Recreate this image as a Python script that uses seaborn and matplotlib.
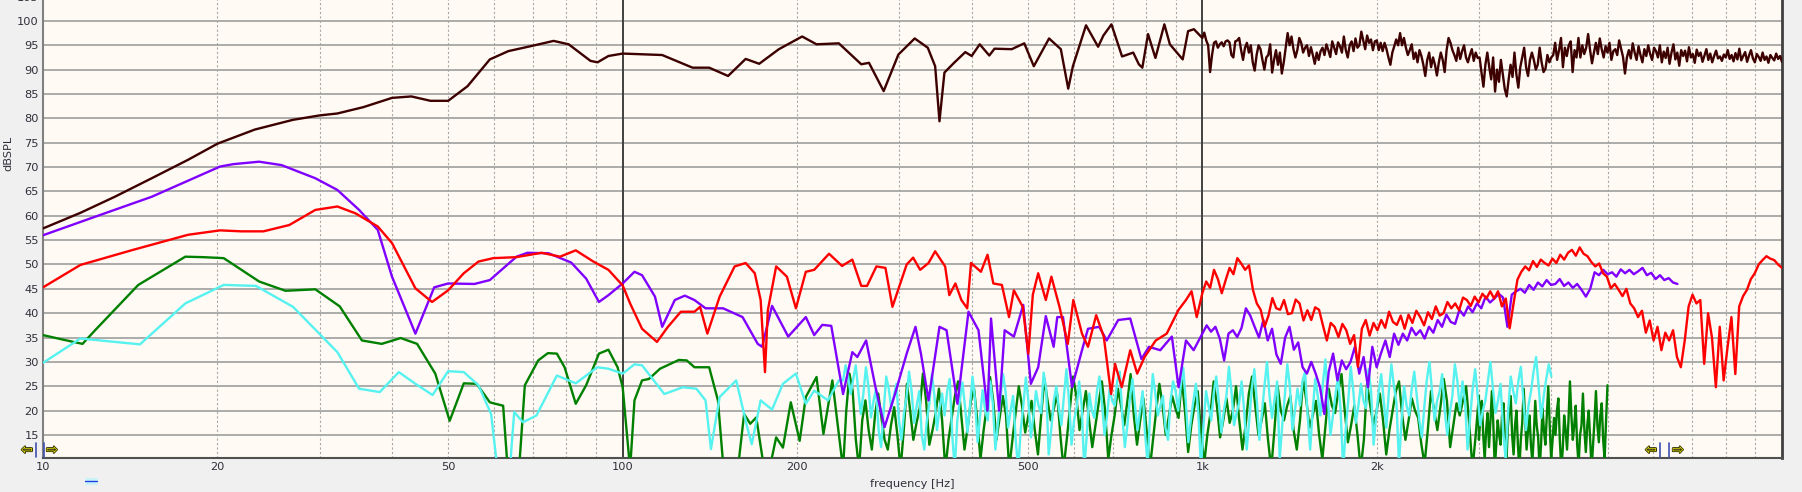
import numpy as np
import pandas as pd
import matplotlib
matplotlib.use("Agg")
import matplotlib.pyplot as plt
import matplotlib.patheffects as pe
from matplotlib.lines import Line2D
import seaborn as sns

# ---- data (frequency in Hz, level in dB SPL) ----
# brown: low band as typed points, 1k..10k as typed noisy values
brown_f = [10, 11.6, 13.3, 15.4, 17.8, 20, 23.2, 27, 30, 32.2, 35.7, 40, 43.2, 46.6, 50, 54, 59, 63.5, 70.5, 76,
           80.7, 88, 90.5, 94.5, 100, 117, 132, 141, 152, 163, 172, 186, 204, 216, 236, 258, 266, 282, 299, 319,
           336, 346, 352, 359, 373, 390, 400, 413, 429, 438, 469, 493, 512, 544, 570, 587, 598, 630, 661, 675,
           697, 727, 760, 777, 788, 806, 830, 860, 879, 925, 945, 967]
brown_db = [57.4, 60.6, 63.9, 67.7, 71.5, 74.8, 77.7, 79.7, 80.6, 81.0, 82.3, 84.2, 84.5, 83.6, 83.6, 86.6, 92.1, 93.8, 95.0, 95.9,
            95.2, 91.8, 91.5, 92.8, 93.3, 93.0, 90.4, 90.4, 88.7, 92.2, 91.2, 94.2, 96.8, 95.2, 95.4, 91.1, 91.4, 85.6, 93.1, 96.4,
            94.5, 90.7, 79.4, 89.4, 91.4, 93.6, 92.8, 95.2, 92.9, 94.3, 94.2, 95.4, 90.7, 96.4, 94.2, 86.1, 90.7, 99.1, 94.7, 97.0,
            99.3, 92.7, 93.5, 91.1, 90.4, 97.3, 92.4, 99.3, 95.2, 92.1, 97.9, 98.3]
brown_hf_range = (1000, 10000)
brown_hf_db = [
    96.5, 97.6, 96.0, 95.0, 89.5, 93.0, 95.5, 95.8, 94.5, 95.2, 95.6, 94.8, 95.8, 96.0, 95.6, 93.0, 92.5, 95.8,
    96.0, 96.5, 94.0, 92.0, 94.5, 95.5, 93.5, 95.0, 91.5, 89.8, 93.0, 95.0, 94.2, 92.0, 90.0, 92.5, 93.0, 95.2,
    89.4, 92.0, 94.0, 91.0, 93.5, 89.2, 91.5, 94.5,
    97.5, 95.0, 96.8, 94.2, 92.5, 94.0, 96.5, 95.5, 93.5, 94.5, 95.0, 92.8, 94.6, 93.0, 91.2, 93.5, 92.0,
    93.8, 94.5, 93.0, 95.2, 94.0, 92.6, 95.8, 94.5, 93.2, 95.6, 94.8, 93.5, 96.8, 94.0, 92.5, 95.0, 95.8, 93.8,
    96.4, 94.5, 95.0, 97.8, 96.0, 94.2, 97.0, 95.5, 96.2, 94.0, 95.8,
    96.0, 94.0, 95.5, 93.8, 95.5, 94.2, 92.5, 91.0, 93.5, 94.8, 96.2, 95.0, 97.5, 95.0, 96.5, 94.5, 93.0, 94.0,
    95.2, 92.2, 93.5, 91.5, 94.0, 92.8,
    91.0, 88.7, 92.0, 93.5, 90.5, 92.5, 91.0, 88.8, 91.5, 93.5, 92.0, 89.5, 94.0, 96.5, 95.5, 94.0, 93.0, 91.8,
    94.5, 92.2, 93.8, 95.0, 92.5, 91.5, 93.0, 94.2, 91.8, 93.5, 92.4,
    92.5, 89.4, 86.5, 91.0, 93.5, 90.5, 88.0, 92.5, 85.5, 90.0, 87.5, 92.0, 89.0, 86.0, 84.5, 88.0, 91.0, 88.5,
    93.5, 89.0, 86.3, 90.5, 92.5, 94.5, 90.5, 88.7, 92.0, 93.5, 92.0, 90.0, 91.0, 94.5, 91.5, 89.5, 90.2, 93.0,
    91.5, 92.5,
    93.0, 95.5, 92.0, 94.0, 96.5, 90.5, 94.5, 92.8, 95.0, 95.8, 89.5, 94.0, 92.5, 96.5, 92.5, 95.0, 93.2, 94.5,
    97.3, 94.0, 91.3, 93.5, 95.5, 93.2, 96.4, 94.2, 92.5, 94.8, 93.5, 95.5, 92.0, 93.8, 94.2, 93.0, 96.0, 94.3,
    92.6, 89.2, 92.5, 94.0, 92.3, 95.4, 93.5, 92.0, 94.8, 93.0, 91.5, 94.2, 92.8, 95.0, 93.2, 92.0, 94.5,
    93.8, 92.5, 95.0, 91.5, 93.7, 92.4, 94.5, 91.2, 93.5, 95.2, 92.1, 93.5, 90.8, 94.0, 92.8, 93.9, 91.7, 94.6,
    92.5, 93.2, 91.4, 94.1, 92.8, 93.5, 91.6, 92.9, 94.2, 92.0, 93.3, 91.5, 92.8, 93.9, 92.3, 92.7, 91.8, 93.1,
    92.5, 94.0, 92.2, 93.0, 91.7, 93.4, 92.1, 94.3, 91.9, 92.8, 93.6, 91.6, 92.9, 94.0, 92.3, 91.5, 93.2, 92.6,
    91.8, 93.5, 92.0, 92.7, 91.4, 93.0, 92.4, 91.9, 93.3, 92.2, 92.8, 91.6]

purple_f = [10, 12.3, 15.4, 20.2, 21.3, 23.6, 25.8, 29.5, 32.2, 35.1, 37.8, 40, 43.9, 47.3, 50, 55.5, 59, 65.6, 68.5, 74.5,
            81.5, 86.5, 91, 94.5, 100, 104.8, 108, 113.7, 117, 123, 128, 133, 139, 149, 161, 171, 174, 181, 193, 207,
            214, 221, 229, 240, 249, 254, 263, 273, 283, 295, 309, 320, 327, 337, 352, 362, 378, 395, 411, 426,
            432, 446, 456, 473, 491, 506, 521, 537, 554, 562, 575, 596, 620, 635, 664, 684, 716, 751, 785, 809,
            846, 886, 910, 937, 966]
purple_db = [56.0, 59.8, 63.9, 70.1, 70.6, 71.1, 70.4, 67.7, 65.3, 61.2, 57.1, 47.5, 35.8, 45.3, 46.1, 46.0, 46.8, 51.6, 52.4, 52.3,
             50.4, 47.1, 42.3, 43.7, 46.1, 48.5, 47.8, 43.4, 37.2, 42.7, 43.6, 42.7, 41.0, 41.0, 39.2, 33.7, 33.1, 41.5, 35.2, 39.2,
             35.5, 37.6, 37.4, 23.4, 32.0, 31.0, 34.4, 24.8, 16.6, 23.4, 31.7, 37.2, 31.7, 22.1, 37.2, 36.5, 21.4, 40.3, 36.5, 20.0,
             38.9, 20.0, 36.5, 35.2, 41.7, 25.5, 28.9, 39.4, 33.1, 39.2, 39.2, 24.8, 32.4, 36.8, 37.2, 34.4, 38.6, 38.9, 30.6, 33.1,
             32.4, 35.2, 24.8, 34.4, 32.4]
purple_hf_range = (1000, 6600)
purple_hf_db = [
    35.8, 37.5, 36.2, 37.2, 34.8, 30.3, 35.8, 36.5, 35.1, 37.0, 41.0,
    39.5, 37.2, 35.0, 38.6, 34.4, 36.8, 31.5, 29.6, 35.0, 37.2, 32.5, 34.0, 28.9,
    27.6, 30.0, 27.6, 24.8, 19.3, 28.0, 31.7, 26.2, 30.3, 28.5,
    30.0, 33.1, 27.6, 31.0, 24.8, 33.1, 28.9, 31.8, 34.4, 31.0, 35.8, 33.5,
    35.8, 34.4, 37.0, 35.5, 36.5, 34.8, 37.2, 36.0, 38.6, 37.2, 39.7, 38.2, 37.8, 40.7,
    39.5, 41.4, 40.2, 42.0, 41.0, 43.4, 42.2, 43.0, 44.0, 43.2, 37.2, 43.8, 44.5,
    45.0, 44.2, 45.8, 44.8, 46.3, 45.5, 46.8, 45.8, 46.0, 47.0, 45.6, 46.3, 45.2, 46.0,
    44.8, 43.4, 45.0, 48.4, 47.8, 48.9, 48.0, 48.4, 47.5, 49.0, 48.2, 48.9,
    48.0, 48.6, 49.3, 47.8, 48.3, 47.0, 47.8, 46.8, 47.2, 46.3, 46.0]

red_f = [10, 11.6, 14.3, 17.8, 20.2, 22, 24, 26.6, 29.5, 32.2, 34.6, 37.8, 40, 43.9, 46.9, 50, 53.2, 56.4, 59.8, 65.5,
         72.5, 78, 83, 89, 94.5, 100, 103, 108, 114.6, 119.7, 126, 133, 136, 140, 147, 156, 163, 169, 173, 176,
         178, 184, 192, 199, 207, 214, 227, 239, 249, 258, 264, 274, 284, 292, 309, 317, 326, 337, 346, 360,
         366, 375, 384, 393, 399, 415, 426, 436, 451, 464, 473, 490, 501, 510, 521, 537, 549, 567, 586, 599,
         620, 635, 656, 676, 696, 707, 726, 751, 772, 795, 831, 868, 910, 937, 958, 978]
red_db = [45.3, 49.9, 53.0, 56.1, 57.0, 56.8, 56.8, 58.1, 61.2, 61.9, 60.5, 57.8, 54.4, 45.1, 42.3, 44.7, 48.2, 50.6, 51.3, 51.5,
          52.4, 51.6, 52.9, 50.6, 48.9, 45.7, 42.0, 36.8, 34.1, 37.2, 40.3, 40.3, 41.3, 35.8, 43.4, 49.6, 50.3, 48.2, 42.7, 27.9,
          40.6, 49.6, 47.5, 41.0, 48.5, 48.9, 52.2, 49.7, 51.0, 45.6, 45.6, 49.6, 49.3, 41.3, 50.0, 51.4, 48.9, 50.3, 52.7, 49.6,
          43.7, 46.1, 42.7, 41.0, 50.3, 48.5, 52.0, 46.1, 45.8, 39.2, 44.7, 41.3, 31.7, 43.8, 48.2, 42.7, 47.5, 41.3, 33.7, 42.7,
          35.8, 33.1, 39.6, 35.2, 23.4, 29.6, 24.8, 32.4, 27.6, 31.0, 34.4, 35.8, 40.7, 42.7, 44.5, 39.2]
red_hf_range = (1000, 10000)
red_hf_db = [
    44.1, 46.5, 45.2, 48.9, 47.0, 44.1, 46.8, 49.3, 48.0, 51.3, 50.2, 48.9, 49.8, 44.8, 42.0,
    40.7, 37.2, 39.5, 43.1, 41.0, 40.7, 42.7, 39.8, 40.0, 42.8, 42.0, 38.5, 40.6, 38.6, 41.2,
    40.7, 37.5, 34.4, 38.0, 37.2, 35.1, 37.8, 36.5, 33.7, 35.5, 29.0, 36.8, 38.6, 35.4, 38.0,
    36.5, 38.6, 37.0, 40.3, 38.2, 37.6, 39.5, 36.8, 39.7, 38.0, 40.5, 39.2, 37.5, 40.2, 38.8,
    41.4, 39.5, 40.0, 42.3, 41.0, 42.0, 40.6, 43.2, 42.7, 41.5, 43.4, 42.2, 44.0, 43.0, 44.5,
    43.0, 44.5, 41.4, 43.0, 36.9, 42.0, 46.9, 48.5, 49.6, 48.8, 50.7, 49.5, 51.0, 50.3, 49.8,
    51.2, 50.3, 52.0, 51.0, 52.4, 53.0, 51.8, 53.5, 52.2, 51.7, 50.5, 49.6, 50.2, 48.2, 47.5,
    45.1, 46.0, 44.8, 43.5, 45.0, 42.0, 41.0, 39.2, 40.5, 36.0, 38.5, 34.4, 37.2, 32.4, 36.0,
    34.4, 36.5, 31.0, 28.9, 34.4, 41.4, 43.8, 42.0, 42.7, 29.6, 40.0, 35.0, 24.8, 37.2, 26.2,
    33.0, 39.2, 27.5, 41.4, 43.5, 44.8, 47.0, 48.2, 50.0, 50.9, 51.7, 51.2, 50.9, 50.0, 49.3]

green_f = [10, 10.8, 11.7, 12.3, 14.6, 17.6, 18.9, 20.5, 23.6, 26.2, 29.5, 32.5, 35.5, 38.4, 41.4, 44.2, 47.5, 50.3, 53.2, 56,
           59, 62.2, 63.6, 66, 67.8, 71.5, 74.3, 77, 79.4, 83, 86.5, 91, 94.5, 98, 100, 103, 104.8, 108, 111, 116,
           125, 129, 133, 141, 146, 150, 157, 162, 166, 170, 177, 184, 189, 195, 202, 207, 216, 222, 230]
green_db = [35.5, 34.6, 33.7, 36.5, 45.8, 51.6, 51.5, 51.3, 46.5, 44.6, 44.9, 41.4, 34.4, 33.7, 34.9, 33.7, 27.6, 17.9, 25.6, 25.5,
            21.7, 21.0, 5.0, 5.0, 25.2, 30.3, 31.8, 31.7, 28.9, 21.4, 25.2, 31.7, 32.5, 28.9, 24.8, 8.0, 22.1, 26.2, 26.5, 28.6,
            30.4, 30.3, 28.9, 28.9, 22.1, 5.0, 5.0, 19.3, 17.3, 18.6, 5.0, 14.5, 12.4, 21.7, 13.8, 22.8, 26.9, 15.2, 26.2]
green_mid_range = (240, 3000)
green_mid_db = [
    8.0, 20.0, 27.6, 24.1, 14.0, 8.0, 18.0, 22.1, 16.0, 12.0, 19.0, 23.5, 18.6, 14.0, 12.0, 17.0, 20.7, 15.0, 8.0, 16.0,
    25.5, 20.0, 14.0, 17.5, 20.5, 27.6, 22.0, 13.0, 16.0, 19.5, 24.5, 18.0, 8.0, 14.0, 18.5, 23.0, 26.0, 19.0, 12.0, 16.5,
    22.0, 24.5, 18.0, 10.0, 16.0, 21.0, 26.9, 22.0, 14.0, 18.5, 23.0, 19.0, 8.0, 14.0, 19.5, 25.0, 21.0, 15.5, 19.0, 22.0,
    16.0, 11.0, 19.0, 26.5, 22.0, 18.0, 20.5, 23.5, 15.0, 8.0, 14.0, 20.5, 27.0, 23.0, 16.0, 20.0, 24.0, 18.0, 12.5, 17.0,
    21.5, 26.0, 20.0, 10.0, 15.0, 19.0, 24.5, 21.0, 17.0, 22.0, 27.5, 19.0, 13.0, 18.0, 22.5, 16.0, 8.0, 14.0, 20.0, 25.5,
    21.0, 15.0, 19.0, 23.0, 20.5, 18.5, 26.5, 20.0, 11.5, 17.0, 21.0, 24.0, 16.0, 9.0, 15.0,
    19.5, 26.0, 21.0, 14.5, 18.0, 22.5, 17.5, 20.0, 25.0, 18.0, 12.0, 17.0, 23.5, 27.0, 21.0, 15.0, 18.0, 21.5, 14.0, 8.0,
    16.0, 25.0, 20.0, 18.0, 21.0, 23.0, 16.0, 12.0, 18.0, 26.5, 22.0, 16.5, 19.0, 22.0, 15.0, 10.0, 17.0, 24.5, 21.0, 19.5,
    24.0, 27.5, 20.0, 13.5, 17.0, 21.0, 15.0, 8.0, 14.0, 25.5, 21.0, 17.0, 20.0, 23.5, 18.0, 11.0, 16.0, 20.0, 24.0, 26.0,
    19.0, 14.0, 18.0, 22.5, 20.0, 18.5, 13.0, 9.0, 16.0, 24.0, 20.0, 16.0, 21.0, 26.5, 22.0, 12.5, 17.0, 21.5, 19.0, 22.0,
    25.0, 17.0, 8.0, 15.0, 23.0]
green_top_range = (3000, 5000)
green_top_db = [
    14.0, 19.0, 22.0, 15.0, 10.0, 16.0, 19.5, 12.5, 18.0, 24.0, 17.0, 8.0, 13.0, 18.0, 15.0, 13.0, 19.0, 21.5, 14.0, 9.0,
    16.5, 20.0, 23.0, 15.0, 11.0, 17.0, 20.0, 13.0, 8.0, 14.0, 17.5, 24.5, 18.0, 12.0, 16.0, 19.0, 13.0, 9.5, 15.0, 22.0,
    17.0, 14.5, 8.0, 13.0, 20.5, 16.0, 13.0, 19.0, 25.0, 17.0, 10.0, 14.0, 18.5, 15.0, 20.0, 22.5, 14.0, 8.0, 12.0, 19.0,
    16.0, 12.0, 18.0, 26.0, 19.0, 14.0, 17.0, 21.0, 13.0, 9.0, 15.0, 17.0, 23.5, 16.0, 11.5, 17.0, 20.0, 14.0, 8.0, 13.0,
    18.0, 24.0, 17.0, 13.5, 19.0, 21.5, 14.0, 10.0, 18.0, 25.2]

cyan_f = [10, 11.6, 14.7, 17.6, 20.5, 23.3, 27, 32.2, 35.1, 38.1, 41.1, 43.9, 47, 50, 53.2, 56.4, 59.3, 61.2, 63.6, 65,
          67.3, 71, 77, 83, 90.4, 94.5, 100, 104.8, 108, 118, 127, 134, 139, 142, 147, 157, 164, 167, 173, 181,
          189, 199, 207, 214, 226, 236]
cyan_db = [29.8, 34.8, 33.6, 42.0, 45.8, 45.6, 41.3, 32.0, 24.5, 23.8, 27.9, 25.5, 23.2, 28.1, 27.9, 25.2, 19.3, 5.0, 5.0, 19.7,
           17.6, 19.0, 27.2, 25.6, 28.9, 28.6, 27.6, 29.5, 29.3, 23.4, 24.8, 24.5, 22.1, 12.1, 22.8, 26.2, 16.6, 13.1, 22.1, 20.2,
           25.5, 27.6, 21.4, 24.1, 22.1, 26.2]
cyan_hf_range = (240, 4000)
cyan_hf_db = [
    26.2, 29.3, 27.0, 23.4, 26.5, 29.3, 24.0, 19.3, 23.5, 28.9, 25.0, 18.6, 22.0, 24.5, 16.0, 12.5, 20.0, 27.0, 24.5, 20.5,
    23.0, 25.5, 18.0, 14.0, 19.5, 22.8, 28.0, 24.0, 17.5, 21.0, 24.0, 15.0, 12.0, 18.0, 21.5, 27.5, 23.0, 16.0, 20.5, 23.5,
    19.0, 24.0, 26.5, 15.0, 8.0, 18.0, 22.0, 25.8, 21.0, 15.5,
    21.0, 27.0, 22.0, 13.5, 19.0, 24.2, 20.0, 18.0, 26.0, 21.5, 12.0, 17.5, 22.5, 27.5, 24.0, 16.5, 20.0, 23.0, 14.0, 8.0,
    16.0, 21.0, 26.8, 22.0, 14.5, 19.0, 24.0, 21.0, 19.5, 27.8, 24.5, 11.0, 16.0, 22.0, 25.0, 20.5, 17.0, 23.0, 28.5, 22.0,
    13.0, 18.0, 20.5, 26.0, 21.0, 8.0, 15.0, 23.5, 20.0, 18.5, 24.0, 27.0, 21.5, 15.0, 19.0, 24.5, 22.0, 21.0, 26.0, 28.0,
    19.0, 12.5, 17.0, 22.5, 26.5, 21.0, 16.0, 20.0, 24.0, 15.0, 9.0, 20.0, 27.5, 23.5, 19.0, 21.0, 23.0, 16.5, 14.0, 22.0,
    26.0, 24.0, 20.0, 25.0, 28.8, 22.0, 13.5, 18.0, 22.0, 25.5, 19.0, 8.0,
    17.0, 24.0, 21.0, 18.0, 23.5, 27.0, 22.0, 15.5, 20.0, 23.0, 29.0, 24.0, 17.0, 19.5, 21.5, 26.0, 20.0, 12.0, 18.0, 24.5,
    28.5, 22.0, 14.0, 19.5, 25.0, 30.0, 23.0, 18.5, 22.5, 26.0, 10.0, 17.0, 23.0, 29.5, 25.0, 16.0, 20.0, 24.5, 21.0, 26.0,
    28.0, 19.0, 12.0, 20.0, 26.5, 23.0, 19.0, 25.5, 30.5, 22.0, 15.0, 19.0, 23.5, 27.0, 20.0, 8.0, 16.0, 22.0, 29.0, 24.0,
    17.5, 21.0, 25.5, 22.0, 20.5, 28.5, 24.0, 13.0, 19.0,
    24.0, 27.5, 22.0, 16.5, 24.0, 29.5, 25.0, 21.5, 9.0, 18.0, 25.0, 21.0, 19.0, 24.5, 28.0, 23.0, 18.0, 14.5, 21.0, 26.5,
    30.0, 24.0, 18.0, 22.0, 24.0, 27.5, 20.0, 15.0, 19.5, 23.0, 29.5, 26.0, 20.0, 26.0, 22.0, 12.0, 18.5, 24.5, 28.5, 23.0,
    17.0, 20.0, 22.0, 26.0, 30.0, 24.5, 19.5, 22.0, 25.5, 16.0, 10.0, 20.0, 27.0, 24.0, 21.5, 26.0, 29.0, 22.0, 16.0, 21.0,
    24.0, 28.0, 31.0, 25.0, 18.5, 23.0, 26.5, 29.5, 27.0]

x_tick_vals = [10, 20, 50, 100, 200, 500, 1000, 2000]
x_tick_labels = ["10", "20", "50", "100", "200", "500", "1k", "2k"]
y_tick_vals = list(range(15, 106, 5))


def build_curve(f_pts, db_pts, segments):
    # typed points + typed noisy segments spread over their frequency span
    freqs = [np.asarray(f_pts, float)]
    levels = [np.asarray(db_pts, float)]
    for (f0, f1), vals in segments:
        freqs.append(np.geomspace(f0, f1, len(vals)))
        levels.append(np.asarray(vals, float))
    return pd.DataFrame({"freq": np.concatenate(freqs), "db": np.concatenate(levels)})


curves = {
    "green": (build_curve(green_f, green_db, [(green_mid_range, green_mid_db), (green_top_range, green_top_db)]), "#008000"),
    "cyan": (build_curve(cyan_f, cyan_db, [(cyan_hf_range, cyan_hf_db)]), "#55f2f0"),
    "purple": (build_curve(purple_f, purple_db, [(purple_hf_range, purple_hf_db)]), "#8000ff"),
    "red": (build_curve(red_f, red_db, [(red_hf_range, red_hf_db)]), "#ff0000"),
    "brown": (build_curve(brown_f, brown_db, [(brown_hf_range, brown_hf_db)]), "#3d0000"),
}

sns.set_theme(style="white")
plt.rcParams["font.family"] = ["DejaVu Sans"]

W, H = 1802, 492
fig = plt.figure(figsize=(W / 100, H / 100), dpi=100, facecolor="#f0f0f0")
# plot area: x 43..1782 px, bottom at y=458 px, 4.87 px per dB (top runs past the image edge)
y_lo, y_hi = 10.27, 106.0
ax = fig.add_axes([43 / W, 34 / H, 1739 / W, (y_hi - y_lo) * 4.871 / H])
ax.set_facecolor("#fffaf3")

for name, (df, col) in curves.items():
    sns.lineplot(data=df, x="freq", y="db", color=col, linewidth=1.7, ax=ax,
                 estimator=None, sort=False, zorder=3)

ax.set_xscale("log")
ax.set_xlim(10, 10000)
ax.set_ylim(y_lo, y_hi)

# grid: solid horizontal every 5 dB, dotted verticals, dark decade lines
for v in y_tick_vals:
    ax.axhline(v, color="#a5a5a5", lw=1.3, zorder=1)
for dec in (10, 100, 1000):
    for m in range(2, 10):
        ax.axvline(m * dec, color="#a8a8a8", lw=0.8, ls=(0, (2, 2)), zorder=1)
for dec in (100, 1000):
    ax.axvline(dec, color="#404040", lw=1.4, zorder=2)

ax.set_xticks(x_tick_vals)
ax.set_xticklabels(x_tick_labels)
ax.xaxis.set_minor_locator(matplotlib.ticker.NullLocator())
ax.set_yticks(y_tick_vals)
ax.set_yticklabels([str(v) for v in y_tick_vals])
ax.tick_params(axis="both", length=0, labelsize=8.2, labelcolor="#2f2f3a")
ax.tick_params(axis="x", pad=3)
ax.tick_params(axis="y", pad=3)
ax.set_xlabel("")
ax.set_ylabel("")

for side, col, lw in (("left", "#808080", 1.5), ("bottom", "#505050", 1.5), ("right", "#404040", 2.0)):
    ax.spines[side].set_color(col)
    ax.spines[side].set_linewidth(lw)
ax.spines["top"].set_visible(False)


def fx(px):
    return px / W


def fy(py):
    return 1 - py / H


fig.text(fx(912), fy(484), "frequency [Hz]", ha="center", va="center", fontsize=8.2, color="#2f2f3a")
fig.text(fx(8), fy(153), "dBSPL", ha="center", va="center", rotation=90, fontsize=8.2, color="#2f2f3a")

# cursor markers
arrow_fx = [pe.withStroke(linewidth=1.2, foreground="#303000")]
for xl, bars, xr in ((27, (36, 44), 52), (1651, (1660, 1669), 1678)):
    fig.text(fx(xl), fy(450), "\u21e6", ha="center", va="center", fontsize=10, color="#f0e800",
             path_effects=arrow_fx)
    fig.text(fx(xr), fy(450), "\u21e8", ha="center", va="center", fontsize=10, color="#f0e800",
             path_effects=arrow_fx)
    for b in bars:
        fig.add_artist(Line2D([fx(b), fx(b)], [fy(443), fy(457)], color="#4050b0", lw=1.2))

fig.add_artist(Line2D([fx(85), fx(97)], [fy(481), fy(481)], color="#c8f4f8", lw=5, solid_capstyle="butt"))
fig.add_artist(Line2D([fx(85), fx(97)], [fy(481), fy(481)], color="#2040e0", lw=1.0))

fig.savefig("out.png", dpi=100, facecolor=fig.get_facecolor())
